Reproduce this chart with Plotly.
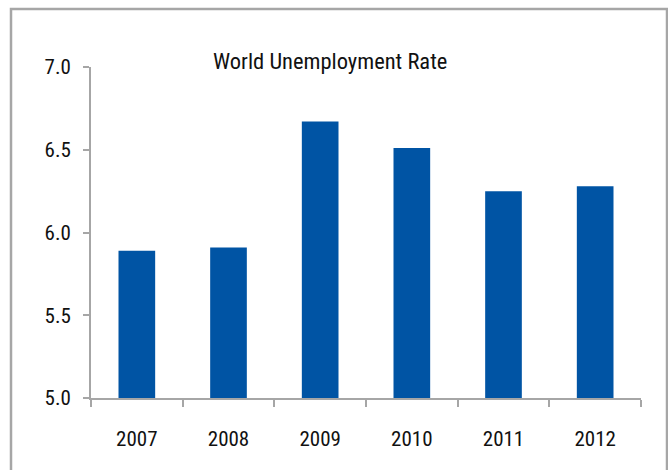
import plotly.graph_objects as go

# World unemployment rate, percent
years = ["2007", "2008", "2009", "2010", "2011", "2012"]
rates = [5.89, 5.91, 6.67, 6.51, 6.25, 6.28]
y_ticks = [5.0, 5.5, 6.0, 6.5, 7.0]
y_tick_text = ["5.0", "5.5", "6.0", "6.5", "7.0"]
title_text = "World Unemployment Rate"

W, H = 668, 470
L, R, T, B = 91, 27, 67, 72
pw, ph = W - L - R, H - T - B

font_family = "Liberation Sans Narrow, Arial Narrow, Roboto Condensed, sans-serif"
axis_grey = "#A6A6A6"
text_color = "#111111"

fig = go.Figure(
    go.Bar(
        x=years,
        y=rates,
        marker=dict(color="#0054A4", line=dict(width=0)),
        width=0.4,
    )
)

# outer frame around the chart area (open at the bottom edge of the page)
fig.add_shape(
    type="rect",
    xref="paper", yref="paper",
    x0=(11 - L) / pw, x1=(667 - L) / pw,
    y0=(H - B - 490) / ph, y1=(H - B - 9) / ph,
    line=dict(color=axis_grey, width=2.5),
    fillcolor="rgba(0,0,0,0)",
    layer="below",
)

fig.add_annotation(
    text=title_text,
    xref="paper", yref="paper",
    x=(330 - L) / pw, y=(H - B - 61) / ph,
    xanchor="center", yanchor="middle",
    showarrow=False,
    font=dict(family=font_family, size=22.5, color=text_color),
)

fig.update_layout(
    width=W, height=H,
    margin=dict(l=L, r=R, t=T, b=B),
    paper_bgcolor="white",
    plot_bgcolor="white",
    showlegend=False,
    font=dict(family=font_family, size=20, color=text_color),
    xaxis=dict(
        type="category",
        showline=True, linecolor=axis_grey, linewidth=2,
        ticks="outside", tickson="boundaries", ticklen=7,
        tickcolor=axis_grey, tickwidth=2,
        ticklabelstandoff=21,
        showgrid=False, zeroline=False,
        tickfont=dict(family=font_family, size=21, color=text_color),
    ),
    yaxis=dict(
        range=[5.0, 7.0],
        tickvals=y_ticks, ticktext=y_tick_text,
        showline=True, linecolor=axis_grey, linewidth=2,
        ticks="outside", ticklen=6, tickcolor=axis_grey, tickwidth=2,
        ticklabelstandoff=8,
        showgrid=False, zeroline=False,
        tickfont=dict(family=font_family, size=21, color=text_color),
    ),
)

fig.write_html("out.html")
